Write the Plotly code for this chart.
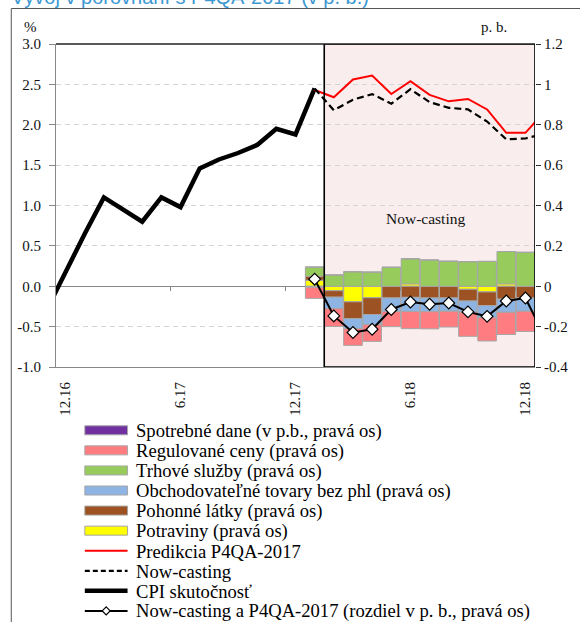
import plotly.graph_objects as go

# ---------------- data ----------------
months = ["11.16", "12.16", "1.17", "2.17", "3.17", "4.17", "5.17", "6.17", "7.17",
          "8.17", "9.17", "10.17", "11.17", "12.17", "1.18", "2.18", "3.18", "4.18",
          "5.18", "6.18", "7.18", "8.18", "9.18", "10.18", "11.18", "12.18", "1.19"]
tick_labels = ["12.16", "6.17", "12.17", "6.18", "12.18"]

# CPI actual (left axis, %), 11.16 .. 1.18
cpi_months = months[0:15]
cpi_actual = [-0.30, 0.18, 0.65, 1.10, 0.95, 0.80, 1.10, 0.98, 1.46, 1.57, 1.65, 1.75, 1.95, 1.88, 2.45]

# forecasts (left axis, %), 1.18 .. 1.19
fc_months = months[14:27]
predikcia = [2.43, 2.34, 2.56, 2.61, 2.38, 2.54, 2.37, 2.29, 2.32, 2.19, 1.90, 1.90, 2.16]
nowcast = [2.45, 2.18, 2.31, 2.38, 2.26, 2.44, 2.28, 2.21, 2.19, 2.04, 1.82, 1.83, 1.89]
# difference (right axis, p.b.)
rozdiel = [0.035, -0.147, -0.229, -0.213, -0.115, -0.078, -0.089, -0.083, -0.127, -0.149, -0.073, -0.058, -0.25]

# contributions (right axis, p.b.), 1.18 .. 12.18
bar_months = months[14:26]
potraviny = [0.030, -0.022, -0.077, -0.057, 0.000, 0.012, 0.000, 0.000, -0.015, -0.028, 0.012, 0.000]
pohonne = [0.020, -0.032, -0.083, -0.083, -0.058, -0.055, -0.058, -0.058, -0.058, -0.068, -0.064, -0.058]
obchodovatelne = [-0.005, -0.057, -0.050, -0.050, -0.067, -0.070, -0.068, -0.066, -0.055, -0.060, -0.065, -0.066]
trhove = [0.045, 0.056, 0.072, 0.070, 0.094, 0.124, 0.130, 0.124, 0.122, 0.123, 0.160, 0.168]
regulovane = [-0.055, -0.088, -0.083, -0.083, -0.075, -0.085, -0.085, -0.078, -0.120, -0.115, -0.110, -0.100]
spotrebne = [0.0] * 12

left_ticks = [-1.0, -0.5, 0.0, 0.5, 1.0, 1.5, 2.0, 2.5, 3.0]
left_ticktext = ["-1.0", "-0.5", "0.0", "0.5", "1.0", "1.5", "2.0", "2.5", "3.0"]
right_ticks = [-0.4, -0.2, 0.0, 0.2, 0.4, 0.6, 0.8, 1.0, 1.2]
right_ticktext = ["-0.4", "-0.2", "0", "0.2", "0.4", "0.6", "0.8", "1", "1.2"]

title_text = "Vývoj v porovnaní s P4QA-2017 (v p. b.)"
box_label = "Now-casting"

# ---------------- layout geometry ----------------
W, H = 580, 622
L, R, T, B = 56, 42, 44, 255
PW, PH = W - L - R, H - T - B


def fx(px):
    return (px - L) / PW


def fy(py):
    return (H - B - py) / PH


pos = {m: i - 1 for i, m in enumerate(months)}
xs = lambda ms: [pos[m] for m in ms]

SERIF = "Liberation Serif, Times New Roman, serif"

fig = go.Figure()

bar_series = [
    ("Potraviny (pravá os)", potraviny, "#FFFF00"),
    ("Pohonné látky (pravá os)", pohonne, "#9C5223"),
    ("Obchodovateľné tovary bez phl (pravá os)", obchodovatelne, "#8DB4E2"),
    ("Trhové služby (pravá os)", trhove, "#97CB5C"),
    ("Regulované ceny (pravá os)", regulovane, "#FF7C80"),
    ("Spotrebné dane (v p.b., pravá os)", spotrebne, "#7030A0"),
]
for name, vals, col in bar_series:
    fig.add_trace(go.Bar(x=xs(bar_months), y=vals, name=name, yaxis="y2",
                         marker=dict(color=col, line=dict(color="#A6A6A6", width=1)),
                         showlegend=False))

fig.add_trace(go.Scatter(x=xs(cpi_months), y=cpi_actual, name="CPI skutočnosť", mode="lines",
                         line=dict(color="black", width=4.5), showlegend=False))
fig.add_trace(go.Scatter(x=xs(fc_months), y=predikcia, name="Predikcia P4QA-2017", mode="lines",
                         line=dict(color="#FF0000", width=2), showlegend=False))
fig.add_trace(go.Scatter(x=xs(fc_months), y=nowcast, name="Now-casting", mode="lines",
                         line=dict(color="black", width=2.2, dash="7px,4px"), showlegend=False))
fig.add_trace(go.Scatter(x=xs(fc_months), y=rozdiel, yaxis="y2",
                         name="Now-casting a P4QA-2017 (rozdiel v p. b., pravá os)",
                         mode="lines+markers", line=dict(color="black", width=2),
                         marker=dict(symbol="diamond", size=9, color="white",
                                     line=dict(color="black", width=1.2)),
                         showlegend=False))
# invisible trace to activate the tick-mark axis
fig.add_trace(go.Scatter(x=[None], y=[None], xaxis="x2", yaxis="y", showlegend=False,
                         hoverinfo="skip"))

first_bar = pos[bar_months[0]]
last_bar = pos[bar_months[-1]]
x_range = [pos[tick_labels[0]] - 0.5, pos[tick_labels[-1]] + 0.5]
tickvals = [pos[t] for t in tick_labels]
boundary_ticks = [v - 0.5 for v in tickvals[1:]]

shapes = [
    dict(type="rect", xref="x", yref="y", x0=first_bar + 0.5, x1=last_bar + 0.5,
         y0=left_ticks[0], y1=left_ticks[-1], fillcolor="#FAEDED", line=dict(width=0), layer="below"),
    dict(type="rect", xref="x", yref="y", x0=first_bar + 0.5, x1=last_bar + 0.5,
         y0=left_ticks[0], y1=left_ticks[-1], fillcolor="rgba(0,0,0,0)",
         line=dict(color="black", width=1.6), layer="above"),
    dict(type="line", xref="x domain", yref="y domain", x0=0, x1=1, y0=1, y1=1,
         line=dict(color="#222", width=1.5), layer="above"),
    dict(type="rect", xref="paper", yref="paper", x0=fx(11), x1=fx(600), y0=fy(660), y1=fy(8.5),
         line=dict(color="#555", width=1), fillcolor="rgba(0,0,0,0)", layer="above"),
]

annotations = [
    dict(text=title_text, xref="paper", yref="paper", x=fx(9), y=fy(10), xanchor="left",
         yanchor="bottom", showarrow=False, font=dict(family="Liberation Sans, Arial, sans-serif",
                                                       size=20, color="#3C98D2")),
    dict(text="%", xref="paper", yref="paper", x=fx(30), y=fy(27), xanchor="center",
         yanchor="middle", showarrow=False, font=dict(family=SERIF, size=15, color="#111")),
    dict(text="p. b.", xref="paper", yref="paper", x=fx(497), y=fy(27), xanchor="center",
         yanchor="middle", showarrow=False, font=dict(family=SERIF, size=15, color="#111")),
    dict(text=box_label, xref="x", yref="y", x=18.8, y=0.84, xanchor="center", yanchor="middle",
         showarrow=False, font=dict(family=SERIF, size=15.5, color="#111")),
]

# manual legend (Excel-like compact rows)
legend_rows = [
    ("bar", bar_series[5][0], bar_series[5][2]),
    ("bar", bar_series[4][0], bar_series[4][2]),
    ("bar", bar_series[3][0], bar_series[3][2]),
    ("bar", bar_series[2][0], bar_series[2][2]),
    ("bar", bar_series[1][0], bar_series[1][2]),
    ("bar", bar_series[0][0], bar_series[0][2]),
    ("red", "Predikcia P4QA-2017", "#FF0000"),
    ("dash", "Now-casting", "black"),
    ("thick", "CPI skutočnosť", "black"),
    ("diamond", "Now-casting a P4QA-2017 (rozdiel v p. b., pravá os)", "black"),
]
sx0, sx1, tx = 85, 128, 134
for i, (kind, name, col) in enumerate(legend_rows):
    yc = 430.3 + 20.07 * i
    if kind == "bar":
        shapes.append(dict(type="rect", xref="paper", yref="paper", x0=fx(sx0), x1=fx(sx1),
                           y0=fy(yc + 4.5), y1=fy(yc - 4.5), fillcolor=col,
                           line=dict(color="#A6A6A6", width=1)))
    else:
        width = {"red": 2, "dash": 2.2, "thick": 4.5, "diamond": 2}[kind]
        dash = "5px,3px" if kind == "dash" else "solid"
        shapes.append(dict(type="line", xref="paper", yref="paper", x0=fx(sx0), x1=fx(sx1),
                           y0=fy(yc), y1=fy(yc), line=dict(color=col, width=width, dash=dash)))
        if kind == "diamond":
            cx = (sx0 + sx1) / 2
            d = 4
            path = "M{},{} L{},{} L{},{} L{},{} Z".format(
                fx(cx - d), fy(yc), fx(cx), fy(yc - d), fx(cx + d), fy(yc), fx(cx), fy(yc + d))
            shapes.append(dict(type="path", xref="paper", yref="paper", path=path,
                               fillcolor="white", line=dict(color="black", width=1.2)))
    annotations.append(dict(text=name, xref="paper", yref="paper", x=fx(tx), y=fy(yc + 0.5),
                            xanchor="left", yanchor="middle", showarrow=False,
                            font=dict(family=SERIF, size=18.6, color="black")))

fig.update_layout(
    width=W, height=H, autosize=False,
    margin=dict(l=L, r=R, t=T, b=B, pad=0),
    paper_bgcolor="white", plot_bgcolor="white",
    barmode="relative", bargap=0.03,
    showlegend=False,
    xaxis=dict(range=x_range, tickmode="array", tickvals=tickvals, ticktext=tick_labels,
               tickangle=-90, ticks="", showline=True, linecolor="#888", linewidth=1,
               showgrid=False, zeroline=False, ticklabelstandoff=8,
               tickfont=dict(family=SERIF, size=15, color="#111")),
    xaxis2=dict(overlaying="x", anchor="free", position=0.25, range=x_range,
                tickmode="array", tickvals=boundary_ticks, ticks="outside", ticklen=4,
                tickcolor="#888", tickwidth=1, showticklabels=False, showline=False,
                showgrid=False, zeroline=False),
    yaxis=dict(range=[left_ticks[0], left_ticks[-1]], tickmode="array", tickvals=left_ticks,
               ticktext=left_ticktext, ticks="outside", ticklen=6, tickcolor="#888",
               showline=True, linecolor="#888", linewidth=1,
               showgrid=True, gridcolor="#D4D4D4", griddash="5px,4px", gridwidth=1,
               zeroline=True, zerolinecolor="#888", zerolinewidth=1, ticklabelstandoff=5,
               tickfont=dict(family=SERIF, size=15, color="#111")),
    yaxis2=dict(overlaying="y", side="right", range=[right_ticks[0], right_ticks[-1]],
                tickmode="array", tickvals=right_ticks, ticktext=right_ticktext,
                ticks="outside", ticklen=5, tickcolor="#333", showline=False,
                showgrid=False, zeroline=False,
                tickfont=dict(family=SERIF, size=15, color="#111")),
    shapes=shapes,
    annotations=annotations,
)

fig.write_html("out.html", config={"displayModeBar": False},
               post_script="document.body.style.margin='0';document.body.style.overflow='hidden';")
